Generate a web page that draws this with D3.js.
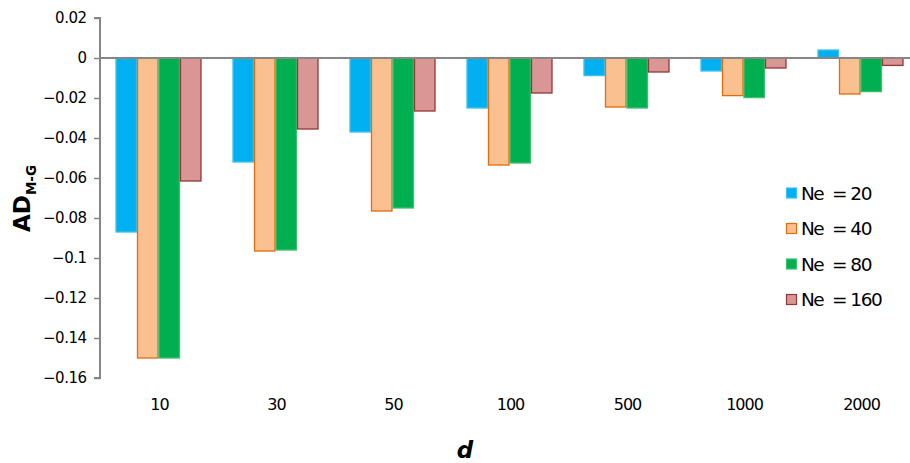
<!DOCTYPE html>
<html lang="en">
<head>
<meta charset="UTF-8">
<title>AD M-G</title>
<style>
    body { margin: 0; background: white; }
    svg { font-family: "DejaVu Sans", sans-serif; }
</style>
</head>
<body>
<script src="https://d3js.org/d3.v7.min.js"></script>
<script>
    // values
    let categories = ['10', '30', '50', '100', '500', '1000', '2000'];
    let seriesNames = ['Ne  = 20', 'Ne  = 40', 'Ne  = 80', 'Ne  = 160'];
    let ne20 = [-0.087, -0.052, -0.037, -0.025, -0.0088, -0.0065, 0.004];
    let ne40 = [-0.150, -0.0965, -0.0765, -0.0535, -0.0245, -0.0188, -0.018];
    let ne80 = [-0.150, -0.096, -0.075, -0.0525, -0.025, -0.0198, -0.0168];
    let ne160 = [-0.0615, -0.0355, -0.0265, -0.0175, -0.007, -0.005, -0.0037];
    let yTicks = [0.02, 0, -0.02, -0.04, -0.06, -0.08, -0.1, -0.12, -0.14, -0.16];

    let fills = ['#00b0f0', '#fac090', '#00b050', '#d99694'];
    let strokes = ['#3ec0f2', '#e46c0a', '#3cc070', '#953735'];
    let series = [ne20, ne40, ne80, ne160];

    let svg = d3.select('body')
        .append('svg')
        .attr('width', 910)
        .attr('height', 463);

    let x = d3.scaleBand()
        .domain(categories)
        .range([100, 919])
        .paddingInner(0.265)
        .paddingOuter(0.1325);

    let x1 = d3.scaleBand()
        .domain(d3.range(4))
        .range([0, x.bandwidth()]);

    let y = d3.scaleLinear()
        .domain([-0.16, 0.02])
        .range([378, 18]);

    // bars
    series.forEach((vals, s) => {
        svg.append('g')
            .selectAll('rect')
            .data(vals)
            .enter()
            .append('rect')
            .attr('x', (d, i) => x(categories[i]) + x1(s) + 0.5)
            .attr('y', d => y(Math.max(0, d)))
            .attr('width', x1.bandwidth() - 1)
            .attr('height', d => Math.abs(y(d) - y(0)))
            .attr('fill', fills[s])
            .attr('stroke', strokes[s])
            .attr('stroke-width', 1.3);
    });

    // y axis
    let yAxis = d3.axisLeft(y)
        .tickValues(yTicks)
        .tickSize(6)
        .tickPadding(7.5)
        .tickFormat(d => d === 0 ? '0' : d3.format('')(+d.toFixed(2)));

    let gy = svg.append('g')
        .attr('transform', 'translate(100,0)')
        .call(yAxis);
    gy.select('.domain').attr('stroke', '#868686').attr('stroke-width', 2)
        .attr('d', 'M-6,' + y(0.02) + 'H0V' + y(-0.16) + 'H-6');
    gy.selectAll('.tick line').attr('stroke', '#868686').attr('stroke-width', 1.5);
    gy.selectAll('.tick text')
        .attr('fill', '#000')
        .style('font-size', '15px')
        .style('font-family', '"DejaVu Sans", sans-serif')
        .style('letter-spacing', '-0.5px');

    // zero (category) line
    svg.append('line')
        .attr('x1', 100).attr('x2', 919)
        .attr('y1', y(0)).attr('y2', y(0))
        .attr('stroke', '#868686')
        .attr('stroke-width', 2);

    // category labels
    svg.append('g')
        .selectAll('text')
        .data(categories)
        .enter()
        .append('text')
        .attr('x', d => x(d) + x.bandwidth() / 2 + 1)
        .attr('y', 410)
        .attr('text-anchor', 'middle')
        .style('font-size', '16px')
        .style('letter-spacing', '-1px')
        .text(d => d);

    // axis titles
    svg.append('text')
        .attr('x', 465)
        .attr('y', 458)
        .attr('text-anchor', 'middle')
        .style('font-size', '23px')
        .style('font-weight', 'bold')
        .style('font-style', 'italic')
        .text('d');

    let yt = svg.append('text')
        .attr('transform', 'translate(29.5,198.5) rotate(-90)')
        .attr('text-anchor', 'middle')
        .style('font-size', '23px')
        .style('font-weight', 'bold');
    yt.append('tspan').text('AD');
    yt.append('tspan')
        .attr('dy', 6)
        .style('font-size', '13.5px')
        .text('M-G');

    // legend
    let legend = svg.append('g')
        .selectAll('g')
        .data(seriesNames)
        .enter()
        .append('g')
        .attr('transform', (d, i) => 'translate(786,' + (193 + i * 35.5) + ')');
    legend.append('rect')
        .attr('x', 0.5).attr('y', -5)
        .attr('width', 10).attr('height', 10)
        .attr('fill', (d, i) => fills[i])
        .attr('stroke', (d, i) => strokes[i])
        .attr('stroke-width', 1.2);
    legend.append('text')
        .attr('x', 15)
        .attr('y', 6.8)
        .style('font-size', '18.5px')
        .style('letter-spacing', '-1.5px')
        .style('white-space', 'pre')
        .text(d => d);
</script>
</body>
</html>
